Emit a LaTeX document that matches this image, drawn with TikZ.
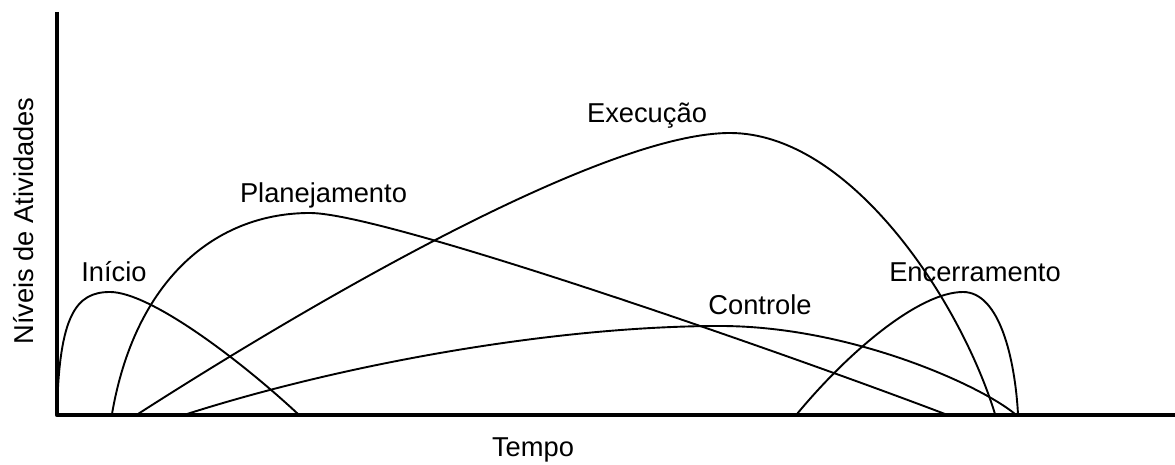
\documentclass[tikz,border=0pt]{standalone}
\usepackage{fontspec}
\setmainfont{Liberation Sans}
\begin{document}
\begin{tikzpicture}[x=1bp,y=-1bp,
  lbl/.style={inner sep=0pt,anchor=base,font=\fontsize{27.3bp}{32bp}\selectfont},
  curve/.style={line width=1.9bp,black},
  axis/.style={line width=4.6bp,black,line join=round}]
\useasboundingbox (0,0) rectangle (1175,465);
% axes
\coordinate (ytop) at (57,12);
\coordinate (orig) at (57,415);
\coordinate (xend) at (1175,415);
\draw[axis] (ytop) -- (orig) -- (xend);
% curves
% Inicio
\draw[curve] (57,414) .. controls (59,315) and (76,292) .. (110,292)
  .. controls (150,292) and (240,360) .. (298,414);
% Planejamento
\draw[curve] (112,414) .. controls (135,280) and (215,213) .. (310,213)
  .. controls (385,213) and (790,355) .. (945,414);
% Execucao
\draw[curve] (138,414) .. controls (300,310) and (600,133) .. (730,133)
  .. controls (850,133) and (960,300) .. (995,414);
% Controle
\draw[curve] (187,414) .. controls (350,362) and (560,326) .. (720,326)
  .. controls (850,326) and (980,385) .. (1015,414);
% Encerramento
\draw[curve] (797,414) .. controls (850,350) and (920,292) .. (963,292)
  .. controls (1000,292) and (1015,360) .. (1018,414);
% labels
\node[lbl] (inicio) at (114,282) {Início};
\node[lbl] (plan) at (323.5,203) {Planejamento};
\node[lbl] (exec) at (647,123) {Execução};
\node[lbl] (ctrl) at (760,315) {Controle};
\node[lbl] (ence) at (975,282) {Encerramento};
\node[lbl] (tempo) at (533,457) {Tempo};
\node[lbl,rotate=90] (niveis) at (33,221) {Níveis de Atividades};
\end{tikzpicture}
\end{document}
